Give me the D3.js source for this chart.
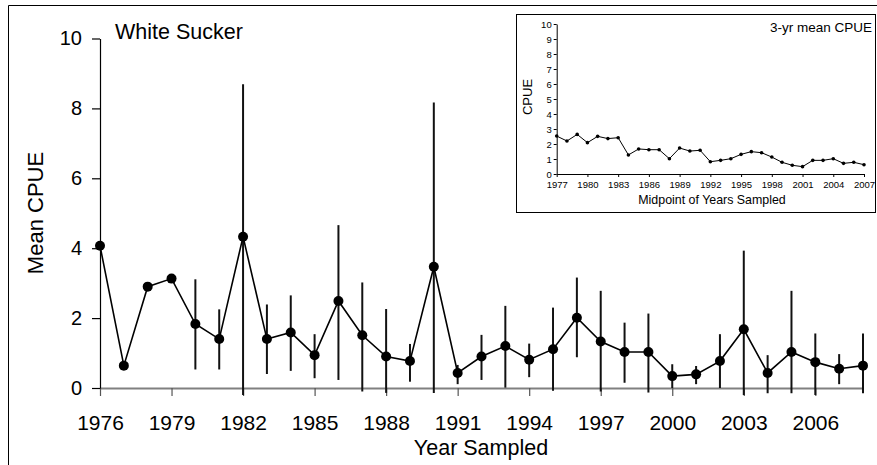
<!DOCTYPE html>
<html>
<head>
<meta charset="utf-8">
<script src="https://cdn.jsdelivr.net/npm/d3@7"></script>
<style>
  body { margin: 0; background: #fff; }
  svg { display: block; font-family: "Liberation Sans", Arial, sans-serif; }
</style>
</head>
<body>
<svg id="chart" width="877" height="465"></svg>
<script>
// main series: mean CPUE by year sampled, with error bar ends
var years = d3.range(1976, 2009);
var meanCpue = [4.07, 0.64, 2.90, 3.13, 1.83, 1.40, 4.33, 1.40, 1.59, 0.94, 2.49,
  1.51, 0.90, 0.77, 3.47, 0.43, 0.90, 1.20, 0.81, 1.11, 2.01, 1.33, 1.03, 1.03,
  0.34, 0.39, 0.77, 1.68, 0.43, 1.03, 0.74, 0.55, 0.64];
var upperCpue = [null, null, null, null, 3.11, 2.25, 8.69, 2.39, 2.65, 1.54, 4.66,
  3.02, 2.26, 1.26, 8.17, 0.66, 1.52, 2.35, 1.27, 2.30, 3.16, 2.78, 1.87, 2.13,
  0.68, 0.63, 1.54, 3.93, 0.94, 2.78, 1.56, 0.97, 1.56];
var lowerCpue = [null, null, null, null, 0.53, 0.53, -0.2, 0.40, 0.49, 0.28, 0.23,
  -0.1, -0.14, 0.18, -0.14, 0.11, 0.23, 0.01, 0.31, -0.08, 0.88, -0.1, 0.15, -0.13,
  0.0, 0.11, 0.0, -0.2, -0.15, -0.15, -0.2, 0.11, -0.15];
var xTicks = [1976, 1979, 1982, 1985, 1988, 1991, 1994, 1997, 2000, 2003, 2006];
var yTicks = [0, 2, 4, 6, 8, 10];

// inset: 3-yr mean CPUE by midpoint year
var midYears = d3.range(1977, 2008);
var mean3yr = [2.53, 2.20, 2.64, 2.09, 2.51, 2.36, 2.42, 1.27, 1.67, 1.62, 1.62,
  1.02, 1.73, 1.53, 1.58, 0.82, 0.91, 1.02, 1.31, 1.49, 1.42, 1.13, 0.78, 0.58,
  0.49, 0.91, 0.91, 1.02, 0.71, 0.78, 0.62];
var insetXTicks = [1977, 1980, 1983, 1986, 1989, 1992, 1995, 1998, 2001, 2004, 2007];
var insetYTicks = d3.range(0, 11);

var svg = d3.select("#chart");

//outer frame: top and left edges only
svg.append("line").attr("x1", 8.5).attr("x2", 877).attr("y1", 5.5).attr("y2", 5.5)
  .attr("stroke", "#000").attr("stroke-width", 1);
svg.append("line").attr("x1", 8.5).attr("x2", 8.5).attr("y1", 5.5).attr("y2", 465)
  .attr("stroke", "#000").attr("stroke-width", 1);

// ---- main chart ----
var x = d3.scaleLinear().domain([1976, 2008]).range([100, 863]);
var y = d3.scaleLinear().domain([0, 10]).range([388, 38.5]);

// x axis (grey line)
var xAxis = svg.append("g")
  .attr("transform", "translate(0," + y(0) + ")")
  .call(d3.axisBottom(x).tickValues(xTicks).tickFormat(d3.format("d"))
    .tickSize(8).tickSizeOuter(0).tickPadding(19));
xAxis.select(".domain").attr("stroke", "#808080").attr("stroke-width", 2);
xAxis.selectAll(".tick line").attr("stroke", "#555").attr("stroke-width", 1.2);
xAxis.selectAll(".tick text").attr("fill", "#000").style("font-size", "21px")
  .attr("font-family", null);

// y axis
var yAxis = svg.append("g")
  .attr("transform", "translate(" + x(1976) + ",0)")
  .call(d3.axisLeft(y).tickValues(yTicks).tickSize(8).tickSizeOuter(0).tickPadding(10));
yAxis.select(".domain").attr("stroke", "#000").attr("stroke-width", 1.2);
yAxis.selectAll(".tick line").attr("stroke", "#000").attr("stroke-width", 1.2);
yAxis.selectAll(".tick text").attr("fill", "#000").style("font-size", "20px")
  .attr("font-family", null);

// axis titles
svg.append("text").attr("x", 481).attr("y", 455).attr("text-anchor", "middle")
  .style("font-size", "21.5px").text("Year Sampled");
svg.append("text").attr("transform", "translate(43,213) rotate(-90)")
  .attr("text-anchor", "middle").style("font-size", "22px").text("Mean CPUE");
svg.append("text").attr("x", 115).attr("y", 39).style("font-size", "21.5px").text("White Sucker");

// error bars
var rows = years.map(function(yr, i) {
  return { year: yr, mean: meanCpue[i], hi: upperCpue[i], lo: lowerCpue[i] };
});
svg.append("g").selectAll("line")
  .data(rows.filter(function(d) { return d.hi != null; }))
  .enter().append("line")
  .attr("x1", function(d) { return x(d.year); })
  .attr("x2", function(d) { return x(d.year); })
  .attr("y1", function(d) { return y(d.hi); })
  .attr("y2", function(d) { return y(d.lo); })
  .attr("stroke", "#111").attr("stroke-width", 2);

// mean line + dots
var line = d3.line().x(function(d) { return x(d.year); }).y(function(d) { return y(d.mean); });
svg.append("path").datum(rows).attr("d", line)
  .attr("fill", "none").attr("stroke", "#000").attr("stroke-width", 1.6);
svg.append("g").selectAll("circle").data(rows).enter().append("circle")
  .attr("cx", function(d) { return x(d.year); })
  .attr("cy", function(d) { return y(d.mean); })
  .attr("r", 5).attr("fill", "#000");

// ---- inset ----
svg.append("rect").attr("x", 516.5).attr("y", 14.5).attr("width", 359).attr("height", 198)
  .attr("fill", "#fff").attr("stroke", "#000").attr("stroke-width", 1);

var ix = d3.scaleLinear().domain([1977, 2007]).range([556.7, 864]);
var iy = d3.scaleLinear().domain([0, 10]).range([174, 24]);

var ixAxis = svg.append("g")
  .attr("transform", "translate(0," + iy(0) + ")")
  .call(d3.axisBottom(ix).tickValues(insetXTicks).tickFormat(d3.format("d"))
    .tickSize(3).tickSizeOuter(0).tickPadding(4));
ixAxis.selectAll(".tick text").attr("fill", "#000").style("font-size", "9.5px")
  .attr("font-family", null);

var iyAxis = svg.append("g")
  .attr("transform", "translate(" + ix(1977) + ",0)")
  .call(d3.axisLeft(iy).tickValues(insetYTicks).tickSize(3).tickSizeOuter(0).tickPadding(2));
iyAxis.selectAll(".tick text").attr("fill", "#000").style("font-size", "9.5px")
  .attr("font-family", null);

svg.append("text").attr("x", 712).attr("y", 204).attr("text-anchor", "middle")
  .style("font-size", "12.4px").text("Midpoint of Years Sampled");
svg.append("text").attr("transform", "translate(532,97) rotate(-90)")
  .attr("text-anchor", "middle").style("font-size", "13px").text("CPUE");
svg.append("text").attr("x", 872).attr("y", 32).attr("text-anchor", "end")
  .style("font-size", "13.5px").text("3-yr mean CPUE");

var insetRows = midYears.map(function(yr, i) { return { year: yr, v: mean3yr[i] }; });
var iline = d3.line().x(function(d) { return ix(d.year); }).y(function(d) { return iy(d.v); });
svg.append("path").datum(insetRows).attr("d", iline)
  .attr("fill", "none").attr("stroke", "#000").attr("stroke-width", 1);
svg.append("g").selectAll("circle").data(insetRows).enter().append("circle")
  .attr("cx", function(d) { return ix(d.year); })
  .attr("cy", function(d) { return iy(d.v); })
  .attr("r", 1.8).attr("fill", "#000");
</script>
</body>
</html>
